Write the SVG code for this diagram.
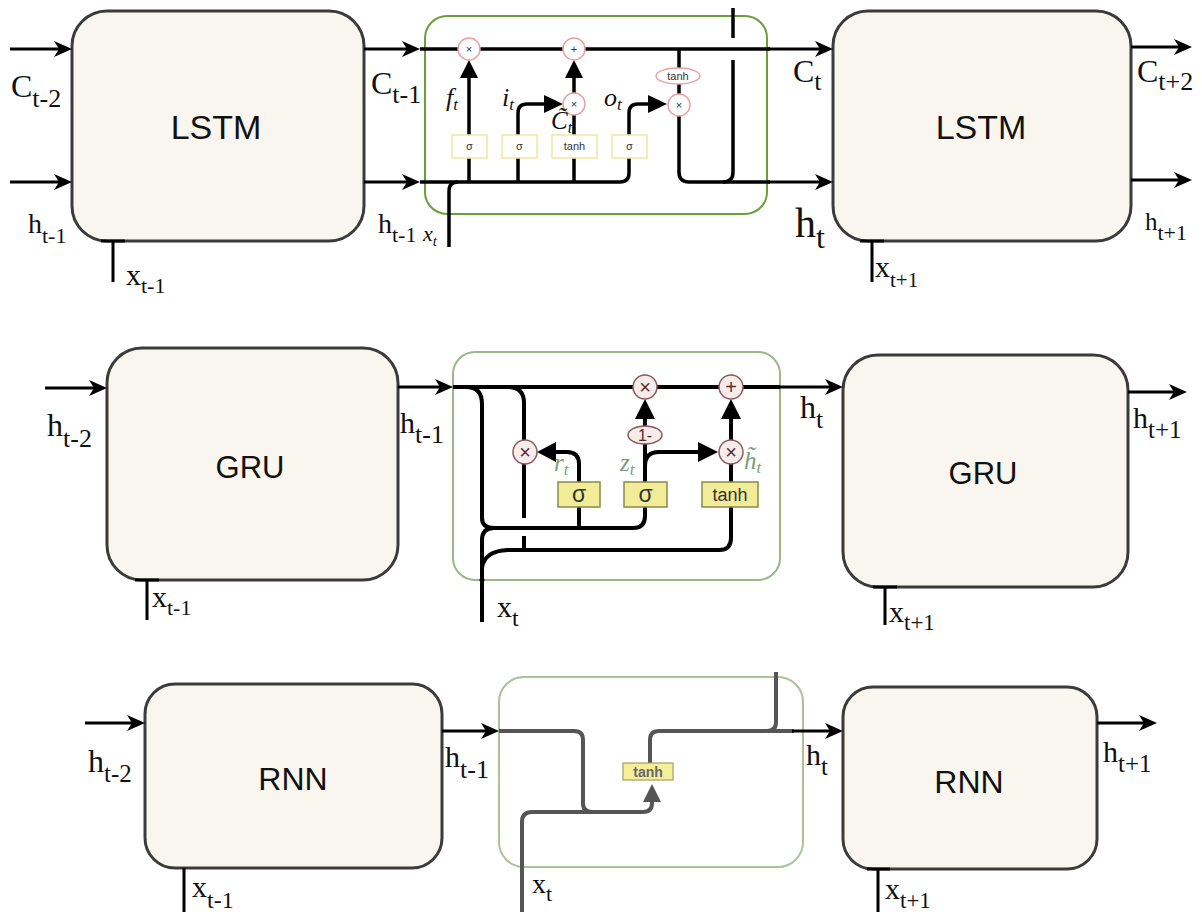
<svg xmlns="http://www.w3.org/2000/svg" width="1202" height="912" viewBox="0 0 1202 912">
<style>
.box{fill:#f8f6ee;stroke:#3b3b3b;stroke-width:3}
.btxt{font-family:"Liberation Sans",Arial,sans-serif;fill:#111;text-anchor:middle}
.lbl{font-family:"Liberation Serif","Times New Roman",serif;fill:#111}
.it{font-family:"Liberation Serif","Times New Roman",serif;font-style:italic;fill:#111}
.git{font-family:"Liberation Serif","Times New Roman",serif;font-style:italic;fill:#7d9b7d}
.con{fill:none;stroke:#000;stroke-width:3}
.ln{fill:none;stroke:#000;stroke-width:3.5}
.gln{fill:none;stroke:#000;stroke-width:4}
.rln{fill:none;stroke:#555;stroke-width:4}
.tri{fill:#000}
.lc{fill:#fff;stroke:#e9a2a2;stroke-width:1.5}
.lbx{fill:#fff;stroke:#f2e7a0;stroke-width:1.5}
.small{font-family:"Liberation Sans",Arial,sans-serif;font-size:11px;fill:#333;text-anchor:middle}
.gc{fill:#f7ecec;stroke:#8a5a60;stroke-width:1.5}
.gbx{fill:#f2ec98;stroke:#8a8a4a;stroke-width:1.5}
.gsym{font-family:"Liberation Sans",Arial,sans-serif;fill:#5a2a2a;text-anchor:middle}
.gtx{font-family:"Liberation Sans",Arial,sans-serif;fill:#333;text-anchor:middle}
</style>
<defs>
<marker id="arr" viewBox="0 0 18 16" refX="12" refY="8" markerWidth="18" markerHeight="16" markerUnits="userSpaceOnUse" orient="auto">
<path d="M0,0 L18,8 L0,16 L5,8 z" fill="#000"/>
</marker>
</defs>
<rect width="1202" height="912" fill="#fff"/>

<!-- LSTM row -->
<g id="lstm-left">
<rect class="box" x="72" y="11" width="292" height="230" rx="35"/>
<text class="btxt" x="216" y="139" font-size="34">LSTM</text>
</g>
<g id="lstm-right">
<rect class="box" x="833" y="11" width="298" height="230" rx="35"/>
<text class="btxt" x="981" y="139" font-size="34">LSTM</text>
</g>
<g id="lstm-cell">
<rect x="425" y="16" width="342" height="198" rx="22" fill="none" stroke="#6aa03a" stroke-width="2"/>
<path class="ln" d="M420,49 H770"/>
<path class="ln" d="M420,182 H620 Q629,182 629,173 V113 Q629,104 638,104 H650"/>
<polygon class="tri" points="648,95 667,104 648,113"/>
<path class="ln" d="M449,247 V191 Q449,182 458,182"/>
<path class="ln" d="M469,182 V78"/>
<polygon class="tri" points="460,78 469,60 478,78"/>
<path class="ln" d="M518,182 V113 Q518,104 527,104 H546"/>
<polygon class="tri" points="544,95 563,104 544,113"/>
<path class="ln" d="M574,182 V78"/>
<polygon class="tri" points="565,78 574,60 583,78"/>
<path class="ln" d="M679,49 V172 Q679,182 689,182 H770"/>
<path class="ln" d="M733,60 V172 Q733,182 723,182"/>
<path class="ln" d="M733,8 V38"/>
<rect class="lbx" x="452" y="135" width="35" height="23"/>
<rect class="lbx" x="502" y="135" width="35" height="23"/>
<rect class="lbx" x="552" y="135" width="45" height="23"/>
<rect class="lbx" x="612" y="135" width="35" height="23"/>
<text class="small" x="469.5" y="150">σ</text>
<text class="small" x="519.5" y="150">σ</text>
<text class="small" x="574.5" y="150">tanh</text>
<text class="small" x="629.5" y="150">σ</text>
<circle class="lc" cx="469" cy="49" r="11"/>
<circle class="lc" cx="574" cy="49" r="11"/>
<circle class="lc" cx="574" cy="104" r="11"/>
<circle class="lc" cx="679" cy="105" r="11"/>
<ellipse class="lc" cx="678" cy="76" rx="22" ry="8"/>
<text class="small" x="469" y="53">×</text>
<text class="small" x="574" y="53">+</text>
<text class="small" x="574" y="108">×</text>
<text class="small" x="679" y="109">×</text>
<text class="small" x="678" y="80" font-size="10">tanh</text>
<text class="it" x="446" y="106" font-size="26">f<tspan font-size="17" dy="4">t</tspan></text>
<text class="it" x="502" y="106" font-size="26">i<tspan font-size="17" dy="4">t</tspan></text>
<text class="it" x="551" y="129" font-size="25">C̃<tspan font-size="16" dy="4">t</tspan></text>
<text class="it" x="604" y="106" font-size="26">o<tspan font-size="17" dy="4">t</tspan></text>
</g>

<!-- GRU row -->
<g id="gru-left">
<rect class="box" x="107" y="348" width="291" height="232" rx="35"/>
<text class="btxt" x="250" y="478" font-size="31">GRU</text>
</g>
<g id="gru-right">
<rect class="box" x="843" y="355" width="285" height="232" rx="35"/>
<text class="btxt" x="983" y="484" font-size="31">GRU</text>
</g>
<g id="gru-cell">
<rect x="453" y="352" width="327" height="228" rx="22" fill="none" stroke="#9ab88a" stroke-width="2"/>
<path class="gln" d="M453,387 H780"/>
<path class="gln" d="M466,387 Q482,387 482,404 V518 Q482,528 494,528 H633 Q645,528 645,516 V507"/>
<path class="gln" d="M579,507 V528"/>
<path class="gln" d="M482,622 V540 Q482,528 494,528"/>
<path class="gln" d="M482,568 Q484,551 508,550 H719 Q731,550 731,538 V507"/>
<path class="gln" d="M508,387 Q524,387 524,403 V518"/>
<path class="gln" d="M524,536 V550"/>
<path class="gln" d="M579,482 V464 Q579,452 567,452 H555"/>
<polygon class="tri" points="556,442 537,452 556,462"/>
<path class="gln" d="M645,482 V443"/>
<path class="gln" d="M645,466 Q645,452 659,452 H700"/>
<polygon class="tri" points="698,442 718,452 698,462"/>
<path class="gln" d="M645,427 V417"/>
<polygon class="tri" points="635,419 645,399 655,419"/>
<path class="gln" d="M731,482 V463"/>
<path class="gln" d="M731,441 V417"/>
<polygon class="tri" points="721,419 731,399 741,419"/>
<circle cx="482" cy="580" r="2.5" fill="#000"/>
<rect class="gbx" x="558" y="482" width="42" height="25"/>
<rect class="gbx" x="624" y="482" width="43" height="25"/>
<rect class="gbx" x="702" y="482" width="56" height="25"/>
<text class="gtx" x="579" y="502" font-size="23">σ</text>
<text class="gtx" x="645.5" y="502" font-size="23">σ</text>
<text class="gtx" x="730" y="501" font-size="18">tanh</text>
<circle class="gc" cx="525" cy="452" r="12"/>
<circle class="gc" cx="645" cy="387" r="12"/>
<circle class="gc" cx="731" cy="387" r="12"/>
<circle class="gc" cx="731" cy="452" r="12"/>
<ellipse class="gc" cx="645" cy="435" rx="17" ry="9"/>
<text class="gsym" x="525" y="459" font-size="20">×</text>
<text class="gsym" x="645" y="394" font-size="20">×</text>
<text class="gsym" x="731" y="394" font-size="20">+</text>
<text class="gsym" x="731" y="459" font-size="20">×</text>
<text class="gsym" x="645" y="441" font-size="16">1-</text>
<text class="git" x="554" y="471" font-size="25">r<tspan font-size="17" dy="4">t</tspan></text>
<text class="git" x="620" y="471" font-size="25">z<tspan font-size="17" dy="4">t</tspan></text>
<text class="git" x="744" y="469" font-size="25">h̃<tspan font-size="17" dy="4">t</tspan></text>
</g>

<!-- RNN row -->
<g id="rnn-left">
<rect class="box" x="145" y="684" width="297" height="184" rx="30"/>
<text class="btxt" x="293" y="790" font-size="32">RNN</text>
</g>
<g id="rnn-right">
<rect class="box" x="843" y="687" width="254" height="182" rx="30"/>
<text class="btxt" x="969" y="793" font-size="32">RNN</text>
</g>
<g id="rnn-cell">
<rect x="499" y="677" width="304" height="190" rx="25" fill="none" stroke="#abc29a" stroke-width="2"/>
<path class="rln" d="M499,731 H574 Q583,731 583,740 V803 Q583,812 592,812"/>
<path class="rln" d="M522,912 V822 Q522,812 532,812 H643 Q652,812 652,803 V800"/>
<polygon points="643,802 652,784 661,802" fill="#555"/>
<path class="rln" d="M650,763 V740 Q650,731 659,731 H794"/>
<path class="rln" d="M776,672 V722 Q776,731 767,731"/>
<rect x="623" y="763" width="50" height="17" fill="#f5ef9a" stroke="#a0a060" stroke-width="1.2"/>
<text x="648" y="777" font-family="Liberation Sans, Arial, sans-serif" font-size="14" font-weight="bold" fill="#666" text-anchor="middle">tanh</text>
</g>

<g id="connectors">
<path class="con" d="M10,49 H66" marker-end="url(#arr)"/>
<path class="con" d="M10,182 H66" marker-end="url(#arr)"/>
<path class="con" d="M364,49 H414" marker-end="url(#arr)"/>
<path class="con" d="M364,182 H414" marker-end="url(#arr)"/>
<path class="con" d="M768,49 H827" marker-end="url(#arr)"/>
<path class="con" d="M768,182 H827" marker-end="url(#arr)"/>
<path class="con" d="M1131,47 H1186" marker-end="url(#arr)"/>
<path class="con" d="M1131,180 H1186" marker-end="url(#arr)"/>
<path class="con" d="M101,241 H125 M113,241 V282"/>
<path class="con" d="M860,241 H884 M872,241 V282"/>

<path class="con" d="M45,388 H101" marker-end="url(#arr)"/>
<path class="con" d="M398,387 H447" marker-end="url(#arr)"/>
<path class="con" d="M778,387 H837" marker-end="url(#arr)"/>
<path class="con" d="M1128,392 H1181" marker-end="url(#arr)"/>
<path class="con" d="M135,580 H159 M147,580 V620"/>
<path class="con" d="M873,587 H897 M885,587 V625"/>

<path class="con" d="M85,723 H139" marker-end="url(#arr)"/>
<path class="con" d="M442,731 H493" marker-end="url(#arr)"/>
<path class="con" d="M792,731 H837" marker-end="url(#arr)"/>
<path class="con" d="M1097,723 H1151" marker-end="url(#arr)"/>
<path class="con" d="M184,868 V912"/>
<path class="con" d="M867,869 H890 M878,869 V912"/>
</g>

<g id="labels">
<text class="lbl" x="11" y="97" font-size="32">C<tspan font-size="26" dy="10">t-2</tspan></text>
<text class="lbl" x="28" y="233" font-size="28">h<tspan font-size="22" dy="10">t-1</tspan></text>
<text class="lbl" x="126" y="285" font-size="30">x<tspan font-size="22" dy="8">t-1</tspan></text>
<text class="lbl" x="371" y="94" font-size="32">C<tspan font-size="26" dy="9">t-1</tspan></text>
<text class="lbl" x="378" y="233" font-size="28">h<tspan font-size="22" dy="9">t-1</tspan></text>
<text class="it" x="423" y="241" font-size="22">x<tspan font-size="15" dy="5">t</tspan></text>
<text class="lbl" x="793" y="82" font-size="32">C<tspan font-size="26" dy="8">t</tspan></text>
<text class="lbl" x="1137" y="82" font-size="32">C<tspan font-size="26" dy="8">t+2</tspan></text>
<text class="lbl" x="795" y="237" font-size="42">h<tspan font-size="32" dy="11">t</tspan></text>
<text class="lbl" x="1145" y="230" font-size="25">h<tspan font-size="22" dy="10">t+1</tspan></text>
<text class="lbl" x="875" y="277" font-size="30">x<tspan font-size="21" dy="10">t+1</tspan></text>

<text class="lbl" x="47" y="436" font-size="32">h<tspan font-size="26" dy="11">t-2</tspan></text>
<text class="lbl" x="400" y="433" font-size="30">h<tspan font-size="26" dy="10">t-1</tspan></text>
<text class="lbl" x="152" y="607" font-size="30">x<tspan font-size="22" dy="8">t-1</tspan></text>
<text class="lbl" x="497" y="617" font-size="30">x<tspan font-size="24" dy="9">t</tspan></text>
<text class="lbl" x="800" y="418" font-size="32">h<tspan font-size="26" dy="10">t</tspan></text>
<text class="lbl" x="1133" y="428" font-size="30">h<tspan font-size="25" dy="10">t+1</tspan></text>
<text class="lbl" x="889" y="622" font-size="30">x<tspan font-size="23" dy="8">t+1</tspan></text>

<text class="lbl" x="88" y="772" font-size="32">h<tspan font-size="25" dy="10">t-2</tspan></text>
<text class="lbl" x="445" y="767" font-size="30">h<tspan font-size="26" dy="11">t-1</tspan></text>
<text class="lbl" x="192" y="897" font-size="30">x<tspan font-size="24" dy="11">t-1</tspan></text>
<text class="lbl" x="532" y="893" font-size="28">x<tspan font-size="22" dy="8">t</tspan></text>
<text class="lbl" x="806" y="765" font-size="30">h<tspan font-size="25" dy="10">t</tspan></text>
<text class="lbl" x="1103" y="762" font-size="30">h<tspan font-size="25" dy="10">t+1</tspan></text>
<text class="lbl" x="885" y="899" font-size="30">x<tspan font-size="23" dy="9">t+1</tspan></text>
</g>
</svg>
